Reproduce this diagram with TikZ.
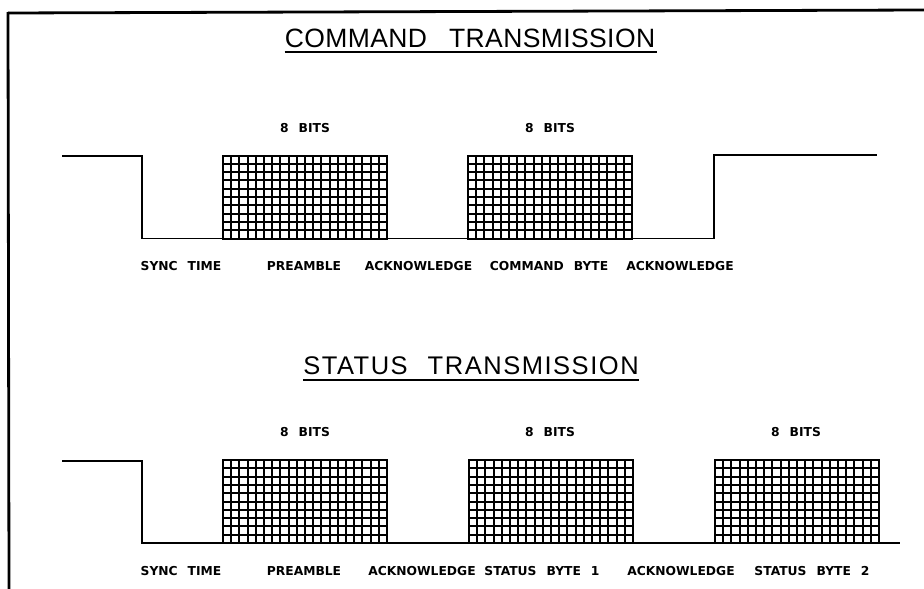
\documentclass[tikz,border=0pt]{standalone}
\usepackage{fontspec}
\setmainfont{Liberation Sans}
\newfontfamily\titlefont[LetterSpace=1.5]{Liberation Sans}
\newfontfamily\titlefontb[LetterSpace=6]{Liberation Sans}
\newfontfamily\labfont{DejaVu Sans}
\newcommand\wsp{\hspace{10pt}}
\usetikzlibrary{calc}
\tikzset{
  wave/.style={line width=1.8pt, line join=miter},
  frameline/.style={line width=2.8pt},
  uline/.style={line width=1.6pt},
  gridline/.style={line width=2pt},
  bytebox/.style={draw, line width=2pt, minimum width=164pt, minimum height=83pt,
    inner sep=0pt, outer sep=0pt},
  lab/.style={font=\labfont\bfseries\fontsize{12.3}{14}\selectfont, inner sep=0pt},
  ttl/.style={font=\titlefont\fontsize{26.5}{30}\selectfont, inner sep=0pt},
  ttlb/.style={font=\titlefontb\fontsize{25.5}{30}\selectfont, inner sep=0pt},
}
\newcommand\bytegrid[1]{%
  \foreach \i in {1,...,19}{%
    \draw[gridline] ($(#1.south west)!\i/20!(#1.south east)$) --
                    ($(#1.north west)!\i/20!(#1.north east)$);}%
  \foreach \j in {1,...,9}{%
    \draw[gridline] ($(#1.south west)!\j/10!(#1.north west)$) --
                    ($(#1.south east)!\j/10!(#1.north east)$);}%
}
\begin{document}
\begin{tikzpicture}[x=1pt,y=-1pt]
\useasboundingbox (0,0) rectangle (924,589);

% frame
\coordinate (f1) at (8,13);
\coordinate (f2) at (924,10);
\coordinate (f3) at (9,589);
\draw[frameline] (f1) -- (f2);
\draw[frameline] ([yshift=1pt]f1) -- (f3);

% ---------------- COMMAND TRANSMISSION ----------------
\node[ttl] (t1) at (470,38.5) {COMMAND\kern 22pt TRANSMISSION};
\draw[uline] ([yshift=-4pt]t1.south west) -- ([yshift=-4pt,xshift=2pt]t1.south east);

\node[bytebox] (cb1) at (305,197) {};
\node[bytebox] (cb2) at (550,197) {};
\bytegrid{cb1}
\bytegrid{cb2}

\coordinate (ca) at (62,156);
\coordinate (cb) at (142,156);
\coordinate (ce) at (714,155);
\coordinate (cf) at (877,155);
\draw[wave] (ca) -- (cb) |- (cb1.south west);
\draw[wave] (cb1.south east) -- (cb2.south west);
\draw[wave] (cb2.south east) -| (ce) -- (cf);

\node[lab] (cbits1) at (305,128) {8\wsp BITS};
\node[lab] (cbits2) at (550,128) {8\wsp BITS};

\node[lab] (cl1) at (181,266) {SYNC\wsp TIME};
\node[lab] (cl2) at (304,266) {PREAMBLE};
\node[lab] (cl3) at (418.5,266) {ACKNOWLEDGE};
\node[lab] (cl4) at (549,266) {COMMAND\wsp BYTE};
\node[lab] (cl5) at (680,266) {ACKNOWLEDGE};

% ---------------- STATUS TRANSMISSION ----------------
\node[ttlb] (t2) at (471,366) {STATUS\kern 20pt TRANSMISSION};
\draw[uline] ([yshift=-5pt]t2.south west) -- ([yshift=-5pt]t2.south east);

\node[bytebox] (sb1) at (305,501.5) {};
\node[bytebox] (sb2) at (551,501.5) {};
\node[bytebox] (sb3) at (797,501.5) {};
\bytegrid{sb1}
\bytegrid{sb2}
\bytegrid{sb3}

\coordinate (sa) at (62,461);
\coordinate (sbb) at (142,461);
\coordinate (sz) at (900,543);
\draw[wave] (sa) -- (sbb) |- (sb1.south west);
\draw[wave] (sb1.south east) -- (sb2.south west);
\draw[wave] (sb2.south east) -- (sb3.south west);
\draw[wave] (sb3.south east) -- (sz);

\node[lab] (sbits1) at (305,432) {8\wsp BITS};
\node[lab] (sbits2) at (550,432) {8\wsp BITS};
\node[lab] (sbits3) at (796,432) {8\wsp BITS};

\node[lab] (sl1) at (181,571) {SYNC\wsp TIME};
\node[lab] (sl2) at (304,571) {PREAMBLE};
\node[lab] (sl3) at (422,571) {ACKNOWLEDGE};
\node[lab] (sl4) at (542,571) {STATUS\wsp BYTE\wsp 1};
\node[lab] (sl5) at (681,571) {ACKNOWLEDGE};
\node[lab] (sl6) at (812,571) {STATUS\wsp BYTE\wsp 2};
\end{tikzpicture}
\end{document}
